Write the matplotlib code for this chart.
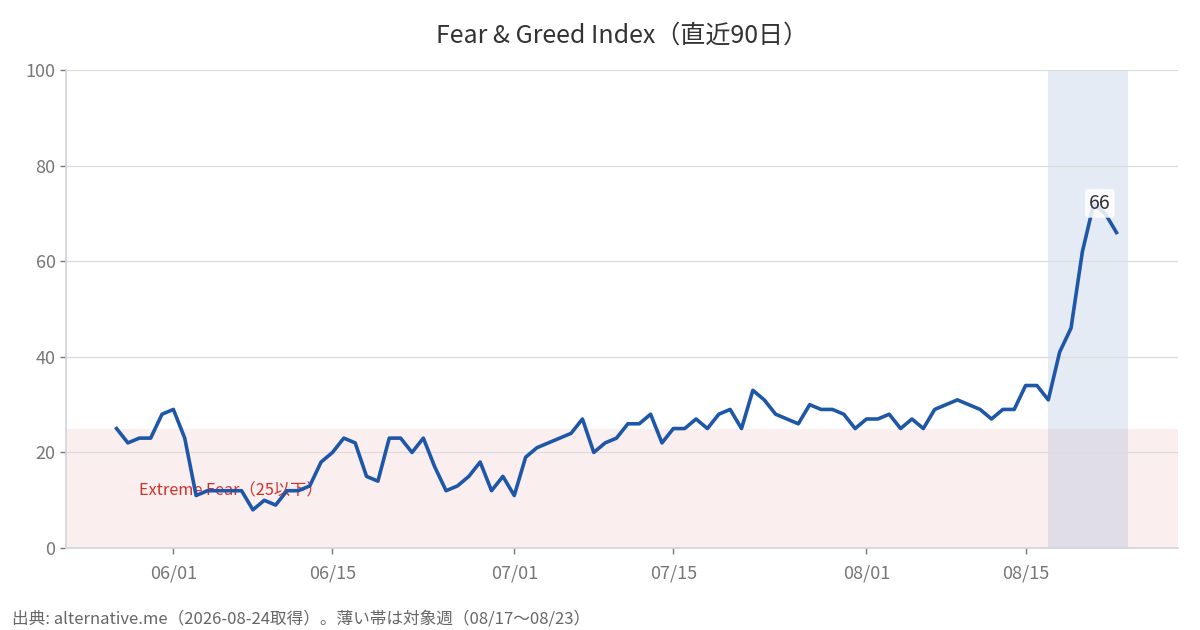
import matplotlib
matplotlib.use('Agg')
import matplotlib.pyplot as plt
import matplotlib.dates as mdates
import pandas as pd

plt.rcParams['font.family'] = ['Noto Sans CJK JP', 'DejaVu Sans']

# データ（2026-05-27〜2026-08-23）
start_date = '2026-05-27'
values_may = [25, 22, 23, 23, 28]
values_jun = [29, 23, 11, 12, 12, 12, 12, 8, 10, 9, 12, 12, 13, 18, 20,
              23, 22, 15, 14, 23, 23, 20, 23, 17, 12, 13, 15, 18, 12, 15]
values_jul = [11, 19, 21, 22, 23, 24, 27, 20, 22, 23, 26, 26, 28, 22, 25, 25,
              27, 25, 28, 29, 25, 33, 31, 28, 27, 26, 30, 29, 29, 28, 25]
values_aug = [27, 27, 28, 25, 27, 25, 29, 30, 31, 30, 29, 27, 29, 29, 34, 34,
              31, 41, 46, 62, 72, 70, 66]
values = values_may + values_jun + values_jul + values_aug
dates = pd.date_range(start_date, periods=len(values), freq='D')

week_start = pd.Timestamp('2026-08-17')
week_end = pd.Timestamp('2026-08-24')
tick_dates = pd.to_datetime(['2026-06-01', '2026-06-15', '2026-07-01',
                             '2026-07-15', '2026-08-01', '2026-08-15'])
extreme_fear = 25

line_color = '#1f57a8'
grid_color = '#dcdcdc'
spine_color = '#d0d4dc'
tick_color = '#777777'

fig = plt.figure(figsize=(12, 6.3), dpi=100)
ax = fig.add_axes([0.055, 0.130, 0.927, 0.759])

# Extreme Fear 帯と対象週
ax.axhspan(0, extreme_fear, color='#c0392b', alpha=0.08, lw=0, zorder=0)
ax.axvspan(week_start, week_end, color='#2b5fb0', alpha=0.12, lw=0, zorder=0.5)

ax.plot(dates, values, color=line_color, linewidth=2.6, zorder=3)

ax.text(dates[2], 12, 'Extreme Fear（25以下）', color='#d0312d',
        fontsize=11.7, ha='left', va='center', zorder=2)

# 最新値
ax.annotate(str(values[-1]), xy=(dates[-1], values[-1]), xytext=(-12, 21),
            textcoords='offset points', ha='center', va='center',
            fontsize=14, color='#333333', zorder=4,
            bbox=dict(boxstyle='round,pad=0.2', fc='white', ec='none', alpha=0.85))

margin = pd.Timedelta(days=4.45)
ax.set_xlim(dates[0] - margin, week_end + margin)
ax.set_ylim(0, 100)
ax.set_yticks(range(0, 101, 20))
ax.set_xticks(tick_dates)
ax.xaxis.set_major_formatter(mdates.DateFormatter('%m/%d'))

ax.grid(axis='y', color=grid_color, linewidth=0.9, zorder=1)
ax.set_axisbelow(True)
for side in ['top', 'right']:
    ax.spines[side].set_visible(False)
for side in ['left', 'bottom']:
    ax.spines[side].set_color(spine_color)
    ax.spines[side].set_linewidth(1.2)
ax.tick_params(axis='both', colors=tick_color, labelsize=13, length=4, width=1)
ax.tick_params(axis='x', pad=8)

ax.set_title('Fear & Greed Index（直近90日）', fontsize=18, color='#333333', pad=20)
fig.text(0.01, 0.004, '出典: alternative.me（2026-08-24取得）。薄い帯は対象週（08/17〜08/23）',
         fontsize=12, color='#666666', ha='left', va='bottom')

fig.savefig('out.png', dpi=100)
